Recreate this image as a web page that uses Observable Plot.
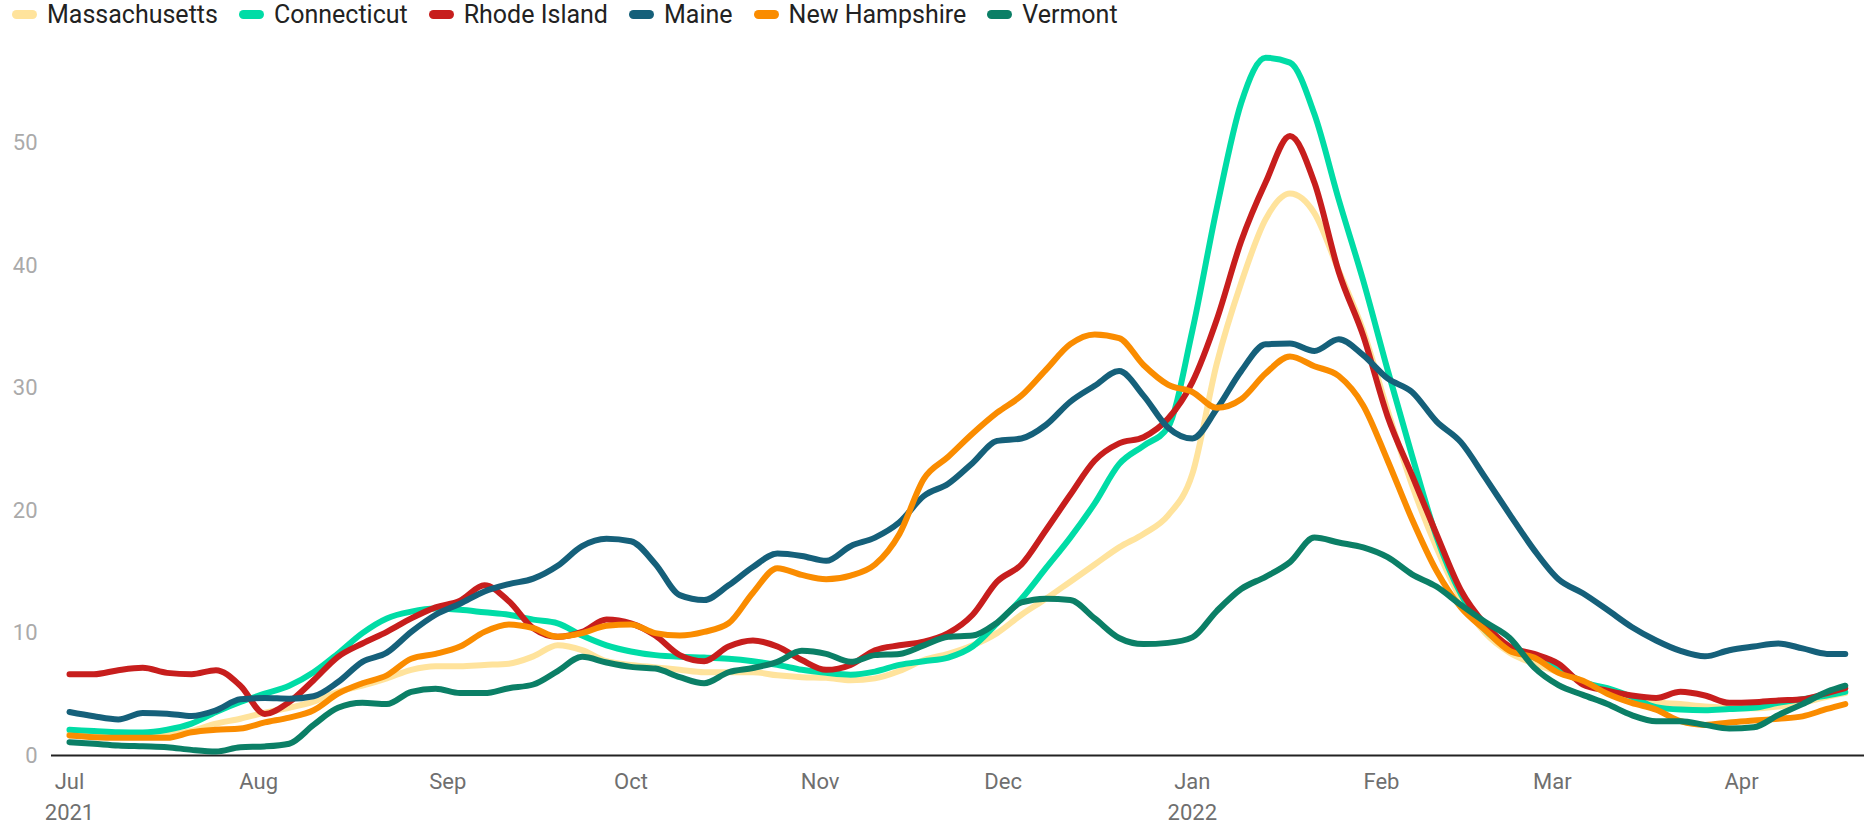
<!DOCTYPE html>
<html>
<head>
<meta charset="utf-8">
<script src="https://cdn.jsdelivr.net/npm/d3@7"></script>
<script src="https://cdn.jsdelivr.net/npm/@observablehq/plot@0.6"></script>
<style>
  html, body { margin: 0; padding: 0; background: #fff; }
  #legend { display: flex; align-items: center; height: 28px; padding-left: 12px;
            font-family: Roboto, sans-serif; font-size: 25px; color: #222; white-space: nowrap; }
  #legend .item { display: flex; align-items: center; margin-right: 21px; }
  #legend .sw { display: inline-block; width: 25px; height: 9px; border-radius: 5px; margin-right: 10px; }
  #chart svg { display: block; }
</style>
</head>
<body>
<div id="legend"></div>
<div id="chart"></div>
<script>
const dates = [
  "2021-07-01","2021-07-05","2021-07-09","2021-07-13","2021-07-17","2021-07-21","2021-07-25","2021-07-29",
  "2021-08-02","2021-08-06","2021-08-10","2021-08-14","2021-08-18","2021-08-22","2021-08-26","2021-08-30",
  "2021-09-03","2021-09-07","2021-09-11","2021-09-15","2021-09-19","2021-09-23","2021-09-27",
  "2021-10-01","2021-10-05","2021-10-09","2021-10-13","2021-10-17","2021-10-21","2021-10-25","2021-10-29",
  "2021-11-02","2021-11-06","2021-11-10","2021-11-14","2021-11-18","2021-11-22","2021-11-26","2021-11-30",
  "2021-12-04","2021-12-08","2021-12-12","2021-12-16","2021-12-20","2021-12-24","2021-12-28",
  "2022-01-01","2022-01-05","2022-01-09","2022-01-13","2022-01-17","2022-01-21","2022-01-25","2022-01-29",
  "2022-02-02","2022-02-06","2022-02-10","2022-02-14","2022-02-18","2022-02-22","2022-02-26",
  "2022-03-02","2022-03-06","2022-03-10","2022-03-14","2022-03-18","2022-03-22","2022-03-26","2022-03-30",
  "2022-04-03","2022-04-07","2022-04-11","2022-04-15","2022-04-18"
];

const massachusetts = [
  1.8, 1.7, 1.6, 1.6, 1.7, 2.0, 2.6, 3.0, 3.5, 3.9, 4.4, 5.2, 5.7, 6.3, 7.0, 7.3,
  7.3, 7.4, 7.5, 8.1, 9.0, 8.6, 7.7, 7.4, 7.2, 7.0, 6.8, 6.8, 6.8, 6.55, 6.4, 6.35,
  6.15, 6.3, 6.9, 7.8, 8.3, 9.0, 10.0, 11.5, 12.8, 14.2, 15.6, 17.0, 18.1, 19.6,
  23.0, 32.0, 38.6, 43.8, 45.9, 44.3, 39.6, 34.7, 28.2, 22.1, 17.0, 12.8, 10.0, 8.4,
  7.5, 6.8, 6.1, 5.2, 4.7, 4.35, 4.2, 4.0, 3.9, 3.85, 4.0, 4.3, 4.8, 5.1
];
const connecticut = [
  2.1, 2.0, 1.9, 1.88, 2.1, 2.6, 3.55, 4.37, 5.05, 5.7, 6.8, 8.33, 10.0, 11.2, 11.75, 12.0,
  11.9, 11.7, 11.5, 11.1, 10.8, 9.8, 9.0, 8.5, 8.2, 8.06, 8.0, 7.9, 7.7, 7.4, 7.0, 6.75,
  6.6, 6.85, 7.4, 7.7, 8.0, 8.9, 10.8, 12.8, 15.3, 17.8, 20.6, 23.8, 25.3, 26.8,
  34.7, 44.7, 53.3, 57.0, 56.6, 52.4, 45.4, 38.8, 31.5, 24.5, 17.9, 13.2, 10.25, 8.8,
  8.0, 7.1, 6.0, 5.5, 4.8, 3.95, 3.75, 3.7, 3.8, 3.9, 4.3, 4.6, 4.9, 5.2
];
const rhodeIsland = [
  6.64, 6.64, 6.97, 7.16, 6.75, 6.64, 6.97, 5.7, 3.4, 4.37, 6.15, 8.06, 9.15, 10.1, 11.2, 12.1,
  12.65, 13.9, 12.6, 10.4, 9.7, 10.1, 11.1, 10.8, 9.8, 8.2, 7.7, 8.9, 9.4, 8.9, 7.8, 7.0,
  7.4, 8.6, 9.0, 9.3, 10.0, 11.5, 14.2, 15.6, 18.4, 21.3, 24.1, 25.5, 26.0, 27.5,
  30.5, 35.6, 42.0, 46.8, 50.6, 46.8, 39.5, 34.3, 27.7, 22.9, 18.1, 13.5, 10.7, 8.9,
  8.3, 7.5, 5.8, 5.3, 4.9, 4.7, 5.2, 4.9, 4.3, 4.35, 4.5, 4.6, 5.1, 5.5
];
const maine = [
  3.55, 3.2, 2.95, 3.47, 3.42, 3.22, 3.69, 4.59, 4.7, 4.64, 4.84, 6.0, 7.65, 8.4, 10.1, 11.5,
  12.4, 13.4, 14.0, 14.45, 15.5, 17.1, 17.7, 17.5, 15.65, 13.1, 12.7, 13.9, 15.4, 16.5, 16.3, 15.9,
  17.1, 17.8, 19.05, 21.2, 22.2, 23.9, 25.7, 25.9, 27.0, 28.9, 30.2, 31.4, 29.4, 26.8,
  25.9, 28.3, 31.4, 33.6, 33.65, 33.05, 34.0, 32.7, 30.8, 29.7, 27.3, 25.6, 22.7, 19.7,
  16.8, 14.4, 13.25, 11.9, 10.5, 9.4, 8.55, 8.1, 8.6, 8.9, 9.15, 8.75, 8.3, 8.3
];
const newHampshire = [
  1.64, 1.5, 1.45, 1.45, 1.45, 1.9, 2.1, 2.2, 2.7, 3.1, 3.7, 5.05, 5.9, 6.55, 7.9, 8.3,
  8.9, 10.1, 10.7, 10.4, 9.7, 10.0, 10.6, 10.7, 10.0, 9.8, 10.1, 10.8, 13.3, 15.3, 14.75, 14.4,
  14.7, 15.6, 18.1, 22.6, 24.4, 26.3, 28.0, 29.4, 31.5, 33.6, 34.4, 34.1, 31.9, 30.3,
  29.7, 28.4, 29.1, 31.2, 32.6, 31.8, 31.0, 28.6, 24.1, 19.3, 15.1, 12.1, 10.25, 8.55,
  8.0, 6.75, 6.1, 5.05, 4.3, 3.75, 2.8, 2.5, 2.7, 2.85, 3.0, 3.2, 3.8, 4.2
];
const vermont = [
  1.09, 0.96, 0.82, 0.75, 0.68, 0.46, 0.33, 0.68, 0.74, 0.96, 2.5, 3.9, 4.3, 4.2, 5.2, 5.45,
  5.1, 5.1, 5.5, 5.8, 6.9, 8.06, 7.6, 7.24, 7.1, 6.4, 5.9, 6.8, 7.15, 7.65, 8.55, 8.3,
  7.65, 8.2, 8.3, 9.0, 9.7, 9.8, 10.85, 12.5, 12.8, 12.7, 11.2, 9.6, 9.1, 9.2,
  9.65, 11.8, 13.6, 14.6, 15.8, 17.8, 17.4, 17.0, 16.2, 14.8, 13.8, 12.3, 10.9, 9.6,
  7.2, 5.75, 4.95, 4.2, 3.3, 2.8, 2.8, 2.5, 2.2, 2.3, 3.3, 4.2, 5.2, 5.7
];

const seriesNames = ["Massachusetts", "Connecticut", "Rhode Island", "Maine", "New Hampshire", "Vermont"];
const seriesValues = [massachusetts, connecticut, rhodeIsland, maine, newHampshire, vermont];
const seriesColors = ["#ffe39c", "#00dca6", "#c71e1d", "#15607a", "#fa8c00", "#0b7f66"];

const yTicks = [0, 10, 20, 30, 40, 50];
const monthTicks = ["2021-07-01","2021-08-01","2021-09-01","2021-10-01","2021-11-01","2021-12-01",
                    "2022-01-01","2022-02-01","2022-03-01","2022-04-01"];
const monthLabels = ["Jul\n2021","Aug","Sep","Oct","Nov","Dec","Jan\n2022","Feb","Mar","Apr"];

const parse = s => new Date(s + "T00:00:00Z");

// legend
const legend = document.getElementById("legend");
seriesNames.forEach((name, i) => {
  const item = document.createElement("span");
  item.className = "item";
  const sw = document.createElement("span");
  sw.className = "sw";
  sw.style.background = seriesColors[i];
  item.appendChild(sw);
  item.appendChild(document.createTextNode(name));
  legend.appendChild(item);
});

const data = [];
seriesNames.forEach((name, k) => {
  seriesValues[k].forEach((v, i) => data.push({date: parse(dates[i]), value: v, state: name}));
});

const tickDates = monthTicks.map(parse);
const labelByTime = new Map(tickDates.map((d, i) => [+d, monthLabels[i]]));

const chart = Plot.plot({
  width: 1864,
  height: 798,
  marginLeft: 51,
  marginRight: 0,
  marginTop: 17,
  marginBottom: 71,
  style: {fontFamily: "Roboto, sans-serif", fontSize: "22px", background: "#fff", overflow: "visible"},
  x: {type: "utc", domain: [new Date(Date.UTC(2021, 5, 28, 1, 12)), new Date(Date.UTC(2022, 3, 21, 3, 36))], label: null},
  y: {domain: [0, 58], label: null},
  color: {domain: seriesNames, range: seriesColors},
  marks: [
    Plot.axisY(yTicks, {tickSize: 0, tickPadding: 14, fill: "#aaaaaa", fontSize: 22, label: null}),
    Plot.axisX(tickDates, {tickSize: 0, tickPadding: 12, fill: "#6f6f6f", fontSize: 22, lineHeight: 1.4,
                           tickFormat: d => labelByTime.get(+d), label: null}),
    Plot.ruleY([0], {stroke: "#222", strokeWidth: 2}),
    Plot.line(data, {x: "date", y: "value", z: "state", stroke: "state", strokeWidth: 6,
                     curve: "monotone-x", strokeLinejoin: "round", strokeLinecap: "round"})
  ]
});
document.getElementById("chart").appendChild(chart);
</script>
</body>
</html>
